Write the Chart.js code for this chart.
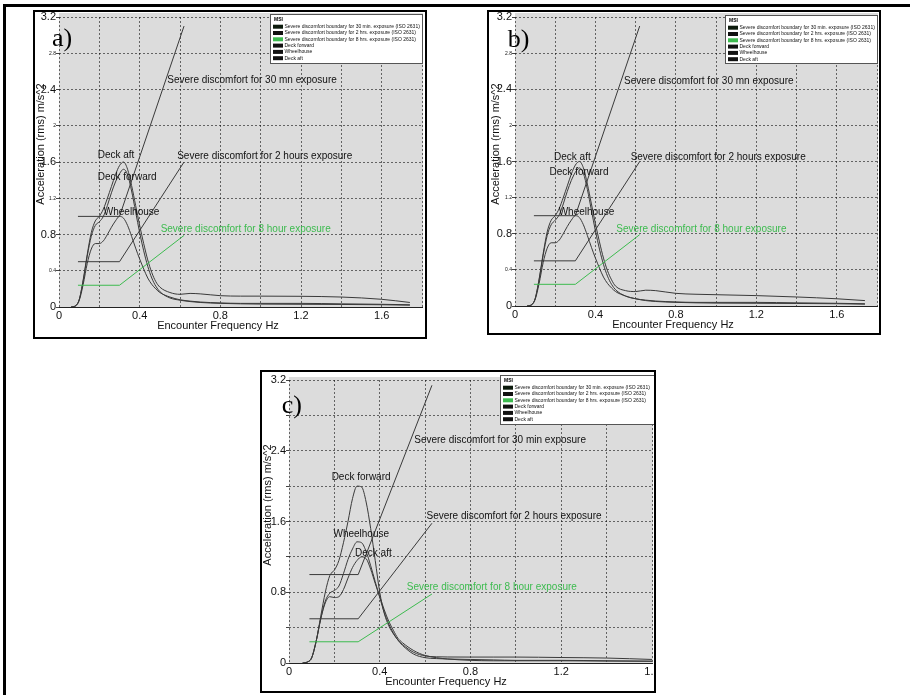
<!DOCTYPE html>
<html>
<head>
<meta charset="utf-8">
<script src="https://cdn.jsdelivr.net/npm/chart.js@4.4.1/dist/chart.umd.min.js"></script>
<style>
  html, body { margin: 0; padding: 0; background: #fff; }
  body { width: 910px; height: 695px; position: relative; overflow: hidden; }
  .outer { position: absolute; left: 3px; top: 4px; width: 940px; height: 720px; border-top: 3px solid #000; border-left: 3px solid #000; }
  .panel { position: absolute; border: 2px solid #000; background: #fff; }
  .panel canvas { display: block; }
</style>
</head>
<body>
<div class="outer"></div>
<div class="panel" style="left:33px;top:10px;"><canvas id="chart-a" width="390" height="325"></canvas></div>
<div class="panel" style="left:487px;top:10px;"><canvas id="chart-b" width="390" height="321"></canvas></div>
<div class="panel" style="left:260px;top:370px;"><canvas id="chart-c" width="392" height="319"></canvas></div>

<script>
const FONT = '"Liberation Sans", Arial, sans-serif';
const SERIF = '"Liberation Serif", "Times New Roman", serif';
const LINE = "#3a3a3a";
const GREEN = "#3dbb4f";

// ISO 2631 severe discomfort boundaries (a, b)
const isoFreq = [0.094, 0.3, 0.62];
const iso30min = [1.0, 1.0, 3.1];
const iso2hrs = [0.5, 0.5, 1.6];
const iso8hrs = [0.24, 0.24, 0.79];

// ISO 2631 boundaries (c)
const isoFreqC = [0.09, 0.305, 0.63];
const iso30minC = [1.0, 1.0, 3.14];
const iso2hrsC = [0.5, 0.5, 1.58];
const iso8hrsC = [0.24, 0.24, 0.78];

// encounter frequency (Hz)
const freqAB = [0.06, 0.08, 0.1, 0.12, 0.14, 0.16, 0.18, 0.2, 0.22, 0.24, 0.26, 0.28, 0.3, 0.32, 0.34, 0.36, 0.38, 0.4, 0.42, 0.44, 0.46, 0.48, 0.5, 0.55, 0.6, 0.65, 0.7, 0.8, 0.9, 1.0, 1.2, 1.4, 1.6, 1.74];
const freqC = [0.06, 0.08, 0.1, 0.12, 0.14, 0.16, 0.18, 0.2, 0.22, 0.24, 0.26, 0.28, 0.3, 0.32, 0.34, 0.36, 0.38, 0.4, 0.42, 0.44, 0.46, 0.48, 0.5, 0.55, 0.6, 0.65, 0.7, 0.8, 0.9, 1.0, 1.2, 1.4, 1.6];

// a)
const aDeckForward = [0, 0.01, 0.08, 0.29, 0.56, 0.78, 0.9, 0.94, 1.0, 1.12, 1.26, 1.38, 1.47, 1.52, 1.46, 1.28, 1.05, 0.82, 0.62, 0.45, 0.32, 0.23, 0.17, 0.1, 0.075, 0.06, 0.05, 0.04, 0.035, 0.032, 0.03, 0.028, 0.025, 0.02];
const aWheelhouse = [0, 0.01, 0.07, 0.25, 0.48, 0.64, 0.7, 0.7, 0.73, 0.8, 0.88, 0.95, 1.0, 0.98, 0.9, 0.78, 0.65, 0.53, 0.42, 0.32, 0.25, 0.2, 0.16, 0.11, 0.08, 0.065, 0.055, 0.045, 0.04, 0.04, 0.04, 0.035, 0.03, 0.025];
const aDeckAft = [0, 0.01, 0.08, 0.3, 0.58, 0.82, 0.95, 1.0, 1.08, 1.2, 1.33, 1.46, 1.56, 1.6, 1.52, 1.34, 1.12, 0.9, 0.7, 0.52, 0.38, 0.28, 0.22, 0.16, 0.14, 0.15, 0.145, 0.125, 0.12, 0.12, 0.118, 0.11, 0.085, 0.05];

// b)
const bDeckForward = [0, 0.01, 0.08, 0.29, 0.56, 0.78, 0.9, 0.95, 1.01, 1.13, 1.27, 1.39, 1.48, 1.53, 1.47, 1.29, 1.06, 0.83, 0.63, 0.46, 0.33, 0.24, 0.18, 0.11, 0.08, 0.06, 0.05, 0.04, 0.035, 0.032, 0.03, 0.028, 0.025, 0.02];
const bWheelhouse = [0, 0.01, 0.07, 0.25, 0.48, 0.64, 0.7, 0.7, 0.73, 0.8, 0.88, 0.95, 1.0, 0.98, 0.9, 0.78, 0.65, 0.53, 0.42, 0.32, 0.25, 0.2, 0.16, 0.11, 0.08, 0.065, 0.055, 0.045, 0.04, 0.04, 0.04, 0.035, 0.03, 0.025];
const bDeckAft = [0, 0.01, 0.08, 0.3, 0.58, 0.82, 0.95, 1.0, 1.08, 1.2, 1.33, 1.46, 1.56, 1.6, 1.53, 1.35, 1.13, 0.91, 0.71, 0.53, 0.39, 0.29, 0.22, 0.17, 0.16, 0.175, 0.17, 0.14, 0.13, 0.125, 0.115, 0.1, 0.08, 0.06];

// c)
const cDeckForward = [0, 0.01, 0.06, 0.25, 0.53, 0.8, 0.99, 1.05, 1.16, 1.36, 1.6, 1.86, 2.0, 1.99, 1.82, 1.52, 1.16, 0.8, 0.56, 0.42, 0.33, 0.26, 0.2, 0.1, 0.06, 0.05, 0.045, 0.04, 0.035, 0.03, 0.03, 0.025, 0.02];
const cWheelhouse = [0, 0.01, 0.06, 0.25, 0.5, 0.7, 0.79, 0.82, 0.87, 1.01, 1.17, 1.29, 1.37, 1.36, 1.26, 1.1, 0.92, 0.74, 0.57, 0.44, 0.34, 0.26, 0.21, 0.12, 0.08, 0.07, 0.068, 0.067, 0.067, 0.067, 0.062, 0.056, 0.04];
const cDeckAft = [0, 0.01, 0.06, 0.25, 0.5, 0.68, 0.75, 0.74, 0.75, 0.83, 0.96, 1.08, 1.16, 1.2, 1.18, 1.06, 0.9, 0.75, 0.6, 0.47, 0.37, 0.28, 0.23, 0.14, 0.085, 0.06, 0.045, 0.03, 0.025, 0.025, 0.025, 0.022, 0.02];

const legendLabels = [
  "Severe discomfort boundary for 30 min. exposure (ISO 2631)",
  "Severe discomfort boundary for 2 hrs. exposure (ISO 2631)",
  "Severe discomfort boundary for 8 hrs. exposure (ISO 2631)",
  "Deck forward",
  "Wheelhouse",
  "Deck aft",
];
const legendSwatches = ["#0c1a0c", "#111", GREEN, "#111", "#111", "#111"];

const toPoints = (xs, ys) => xs.map((x, i) => ({ x, y: ys[i] }));
const onStep = (v, step) => Math.abs(v / step - Math.round(v / step)) < 1e-6;
const fmt = (v) => String(Math.round(v * 10) / 10);

function buildDatasets(s) {
  const iso = { borderWidth: 1, tension: 0 };
  const resp = { borderColor: LINE, borderWidth: 1, cubicInterpolationMode: "monotone" };
  return [
    { label: legendLabels[0], data: toPoints(s.isoF, s.iso30), borderColor: LINE, ...iso },
    { label: legendLabels[1], data: toPoints(s.isoF, s.iso2), borderColor: LINE, ...iso },
    { label: legendLabels[2], data: toPoints(s.isoF, s.iso8), borderColor: GREEN, ...iso },
    { label: legendLabels[3], data: toPoints(s.f, s.fwd), ...resp },
    { label: legendLabels[4], data: toPoints(s.f, s.wheel), ...resp },
    { label: legendLabels[5], data: toPoints(s.f, s.aft), ...resp },
  ];
}

// fond gris de la zone de tracé
const plotBackground = {
  id: "plotBackground",
  beforeDraw(chart, args, opts) {
    const { ctx, chartArea: a } = chart;
    ctx.save();
    ctx.fillStyle = "#dcdcdc";
    ctx.fillRect(a.left, a.top - opts.extraTop, a.right - a.left + 1, a.bottom - a.top + opts.extraTop);
    ctx.restore();
  },
};

// légende, annotations, titres d'axes, lettre du panneau
const panelDecor = {
  id: "panelDecor",
  afterDraw(chart, args, p) {
    const { ctx, scales } = chart;
    ctx.save();

    ctx.textBaseline = "middle";
    ctx.textAlign = "left";
    ctx.font = "10px " + FONT;
    p.notes.forEach((n) => {
      ctx.fillStyle = n.green ? GREEN : "#111";
      ctx.fillText(n.text, scales.x.getPixelForValue(n.f), scales.y.getPixelForValue(n.v));
    });

    const L = p.legend;
    ctx.fillStyle = "#fff";
    ctx.fillRect(L.x, L.y, L.w, L.h);
    ctx.strokeStyle = "#555";
    ctx.lineWidth = 1;
    ctx.strokeRect(L.x + 0.5, L.y + 0.5, L.w - 1, L.h - 1);
    ctx.fillStyle = "#000";
    ctx.font = "bold 5px " + FONT;
    ctx.fillText("MSI", L.x + 4, L.y + 6);
    ctx.font = "5px " + FONT;
    legendLabels.forEach((label, i) => {
      const y = L.y + 12.7 + i * 6.3;
      ctx.fillStyle = legendSwatches[i];
      ctx.fillRect(L.x + 3, y - 2, 10, 4);
      ctx.fillStyle = "#111";
      ctx.fillText(label, L.x + 14.5, y);
    });

    ctx.fillStyle = "#111";
    ctx.font = "11px " + FONT;
    ctx.textAlign = "center";
    ctx.fillText("Encounter Frequency Hz", p.xTitle[0], p.xTitle[1]);

    ctx.save();
    ctx.translate(p.yTitle[0], p.yTitle[1]);
    ctx.rotate(-Math.PI / 2);
    ctx.fillText("Acceleration (rms) m/s^2", 0, 0);
    ctx.restore();

    ctx.textAlign = "left";
    ctx.textBaseline = "alphabetic";
    ctx.fillStyle = "#000";
    ctx.font = "26px " + SERIF;
    ctx.fillText(p.letter, p.letterPos[0], p.letterPos[1]);

    ctx.restore();
  },
};

function makeChart(p, series) {
  return new Chart(document.getElementById(p.id), {
    type: "line",
    data: { datasets: buildDatasets(series) },
    plugins: [plotBackground, panelDecor],
    options: {
      responsive: false,
      animation: false,
      devicePixelRatio: 1,
      layout: { padding: { top: p.top, right: p.right, left: 0, bottom: 0 } },
      elements: { point: { radius: 0 } },
      plugins: {
        legend: { display: false },
        tooltip: { enabled: false },
        plotBackground: { extraTop: p.extraTop },
        panelDecor: p,
      },
      scales: {
        x: {
          type: "linear",
          min: 0,
          max: p.xMax,
          ticks: {
            stepSize: 0.2,
            autoSkip: false,
            maxRotation: 0,
            padding: 2,
            color: "#111",
            font: { size: 11, family: FONT },
            callback: (v) => (onStep(v, 0.4) ? fmt(v) : ""),
          },
          grid: { color: "rgba(0,0,0,0.55)", lineWidth: 1, drawTicks: false },
          border: { display: true, color: "#222", width: 1, dash: [2, 2] },
          afterFit: (s) => { s.height = p.xAxisH; s.paddingLeft = 0; s.paddingRight = 0; },
        },
        y: {
          min: 0,
          max: 3.2,
          ticks: {
            stepSize: 0.4,
            autoSkip: false,
            padding: 0,
            color: "#111",
            font: (ctx) => ({ size: ctx.tick && onStep(ctx.tick.value, 0.8) ? 11 : 5, family: FONT }),
            callback: (v) => (onStep(v, 0.8) || p.smallTicks ? fmt(v) : ""),
          },
          grid: { color: "rgba(0,0,0,0.55)", lineWidth: 1, drawTicks: true, tickLength: 3, tickColor: "#444" },
          border: { display: false, dash: [2, 2] },
          afterFit: (s) => { s.width = p.yAxisW; s.paddingTop = 0; s.paddingBottom = 0; },
        },
      },
    },
  });
}

makeChart(
  {
    id: "chart-a", xMax: 1.8, top: 5, right: 3, yAxisW: 24, xAxisH: 30, extraTop: 4, smallTicks: true,
    letter: "a)", letterPos: [17, 34], yTitle: [5.5, 132], xTitle: [183, 314],
    legend: { x: 235, y: 2, w: 153, h: 50 },
    notes: [
      { text: "Severe discomfort for 30 mn exposure", f: 0.537, v: 2.5 },
      { text: "Severe discomfort for 2 hours exposure", f: 0.586, v: 1.666 },
      { text: "Severe discomfort for 8 hour exposure", f: 0.504, v: 0.855, green: true },
      { text: "Deck aft", f: 0.192, v: 1.68 },
      { text: "Deck forward", f: 0.192, v: 1.434 },
      { text: "Wheelhouse", f: 0.222, v: 1.05 },
    ],
  },
  { isoF: isoFreq, iso30: iso30min, iso2: iso2hrs, iso8: iso8hrs, f: freqAB, fwd: aDeckForward, wheel: aWheelhouse, aft: aDeckAft }
);

makeChart(
  {
    id: "chart-b", xMax: 1.8, top: 5, right: 2, yAxisW: 26, xAxisH: 27, extraTop: 4, smallTicks: true,
    letter: "b)", letterPos: [18.7, 34.7], yTitle: [6.7, 132], xTitle: [184, 313],
    legend: { x: 236, y: 3, w: 153, h: 49 },
    notes: [
      { text: "Severe discomfort for 30 mn exposure", f: 0.542, v: 2.49 },
      { text: "Severe discomfort for 2 hours exposure", f: 0.575, v: 1.65 },
      { text: "Severe discomfort for 8 hour exposure", f: 0.504, v: 0.845, green: true },
      { text: "Deck aft", f: 0.194, v: 1.65 },
      { text: "Deck forward", f: 0.172, v: 1.48 },
      { text: "Wheelhouse", f: 0.217, v: 1.04 },
    ],
  },
  { isoF: isoFreq, iso30: iso30min, iso2: iso2hrs, iso8: iso8hrs, f: freqAB, fwd: bDeckForward, wheel: bWheelhouse, aft: bDeckAft }
);

makeChart(
  {
    id: "chart-c", xMax: 1.6, top: 8, right: 2, yAxisW: 27, xAxisH: 28, extraTop: 3, smallTicks: false,
    letter: "c)", letterPos: [19.7, 41.3], yTitle: [5.7, 133], xTitle: [184, 309.7],
    legend: { x: 238, y: 3, w: 156, h: 50 },
    notes: [
      { text: "Severe discomfort for 30 min exposure", f: 0.552, v: 2.52 },
      { text: "Severe discomfort for 2 hours exposure", f: 0.606, v: 1.66 },
      { text: "Severe discomfort for 8 hour exposure", f: 0.519, v: 0.86, green: true },
      { text: "Deck forward", f: 0.188, v: 2.1 },
      { text: "Wheelhouse", f: 0.196, v: 1.46 },
      { text: "Deck aft", f: 0.291, v: 1.24 },
    ],
  },
  { isoF: isoFreqC, iso30: iso30minC, iso2: iso2hrsC, iso8: iso8hrsC, f: freqC, fwd: cDeckForward, wheel: cWheelhouse, aft: cDeckAft }
);
</script>
</body>
</html>
